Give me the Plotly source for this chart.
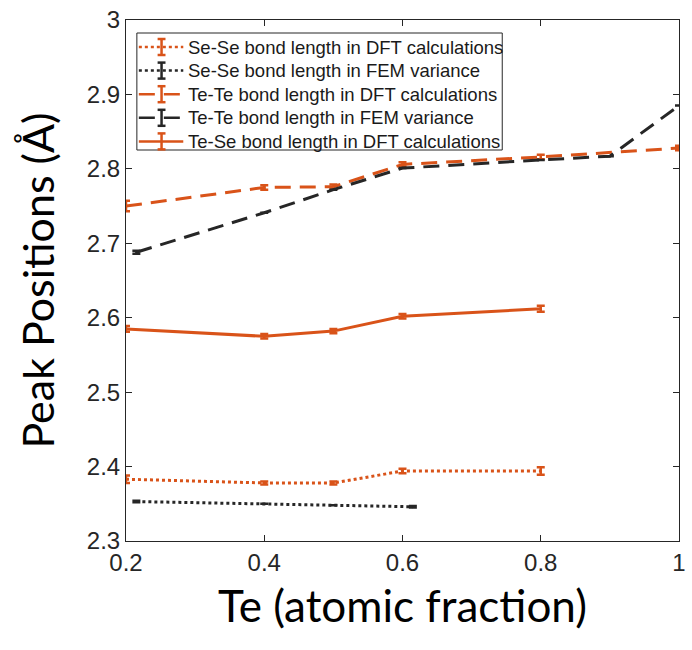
import plotly.graph_objects as go

ORANGE = "#D95319"
BLACK = "#262626"

# Se-Se bond length in DFT calculations
x_sese_dft = [0.2, 0.4, 0.5, 0.6, 0.8]
y_sese_dft = [2.383, 2.378, 2.378, 2.394, 2.394]
e_sese_dft = [0.005, 0.002, 0.002, 0.003, 0.005]

# Se-Se bond length in FEM variance
x_sese_fem = [0.215, 0.4, 0.5, 0.615]
y_sese_fem = [2.353, 2.350, 2.348, 2.346]
e_sese_fem = [0.001, 0.0, 0.0, 0.001]

# Te-Te bond length in DFT calculations
x_tete_dft = [0.2, 0.4, 0.5, 0.6, 0.8, 1.0]
y_tete_dft = [2.750, 2.775, 2.776, 2.806, 2.816, 2.828]
e_tete_dft = [0.007, 0.003, 0.003, 0.003, 0.003, 0.003]

# Te-Te bond length in FEM variance
x_tete_fem = [0.215, 0.4, 0.5, 0.6, 0.8, 0.9, 1.0]
y_tete_fem = [2.688, 2.741, 2.772, 2.801, 2.812, 2.817, 2.885]
e_tete_fem = [0.002, 0.0, 0.0, 0.0, 0.0, 0.0, 0.0]

# Te-Se bond length in DFT calculations
x_tese_dft = [0.2, 0.4, 0.5, 0.6, 0.8]
y_tese_dft = [2.585, 2.575, 2.582, 2.602, 2.612]
e_tese_dft = [0.004, 0.003, 0.003, 0.003, 0.004]

series_names = [
    "Se-Se bond length in DFT calculations",
    "Se-Se bond length in FEM variance",
    "Te-Te bond length in DFT calculations",
    "Te-Te bond length in FEM variance",
    "Te-Se bond length in DFT calculations",
]
series_data = [
    (x_sese_dft, y_sese_dft, e_sese_dft),
    (x_sese_fem, y_sese_fem, e_sese_fem),
    (x_tete_dft, y_tete_dft, e_tete_dft),
    (x_tete_fem, y_tete_fem, e_tete_fem),
    (x_tese_dft, y_tese_dft, e_tese_dft),
]
series_colors = [ORANGE, BLACK, ORANGE, BLACK, ORANGE]
series_dash = ["3px,3px", "3px,3px", "16px,9px", "16px,9px", "solid"]

fig = go.Figure()
for name, (xs, ys, es), col, dash in zip(series_names, series_data, series_colors, series_dash):
    fig.add_trace(go.Scatter(
        x=xs, y=ys, name=name, mode="lines", showlegend=False,
        line=dict(color=col, width=3, dash=dash),
        error_y=dict(type="data", array=es, visible=True, color=col, thickness=2.5, width=4),
    ))

# ---- custom legend box (layout decoration, in plot-area pixel terms) ----
L, R, T, B = 126, 686, 20, 541
W, H = R - L, B - T
def px(x):
    return (x - L) / W
def py(y):
    return (B - y) / H

shapes = [dict(type="rect", xref="paper", yref="paper",
               x0=px(137), x1=px(507), y0=py(150), y1=py(33),
               line=dict(color="#262626", width=1), fillcolor="white", layer="above")]
annotations = []
row_y0, row_dy = 47, 23.6
for i, (name, col, dash) in enumerate(zip(series_names, series_colors, series_dash)):
    ry = row_y0 + i * row_dy
    shapes.append(dict(type="line", xref="paper", yref="paper",
                       x0=px(139), x1=px(184), y0=py(ry), y1=py(ry),
                       line=dict(color=col, width=2.5, dash=dash), layer="above"))
    shapes.append(dict(type="line", xref="paper", yref="paper",
                       x0=px(162), x1=px(162), y0=py(ry - 8), y1=py(ry + 8),
                       line=dict(color=col, width=2.5), layer="above"))
    for cy in (ry - 8, ry + 8):
        shapes.append(dict(type="line", xref="paper", yref="paper",
                           x0=px(158), x1=px(166), y0=py(cy), y1=py(cy),
                           line=dict(color=col, width=2.5), layer="above"))
    annotations.append(dict(xref="paper", yref="paper", x=px(187), y=py(ry),
                            xanchor="left", yanchor="middle", showarrow=False,
                            text=name,
                            font=dict(family="Liberation Sans, Arial", size=18.5, color="#1a1a1a")))

axis_common = dict(
    showline=True, linecolor="#262626", linewidth=1, mirror="ticks",
    ticks="inside", ticklen=6, tickcolor="#262626", showgrid=False, zeroline=False,
    ticklabeloverflow="allow",
    tickfont=dict(family="Liberation Sans, Arial", size=24, color="#262626"),
)

fig.update_layout(
    width=692, height=650,
    margin=dict(l=126, r=6, t=20, b=109),
    paper_bgcolor="white", plot_bgcolor="white",
    xaxis=dict(range=[0.2, 1.0], tickvals=[0.2, 0.4, 0.6, 0.8, 1.0],
               ticktext=["0.2", "0.4", "0.6", "0.8", "1"],
               title=dict(text="Te (atomic fraction)", standoff=16,
                          font=dict(family="Lato, Open Sans", size=44, color="black")),
               **axis_common),
    yaxis=dict(range=[2.3, 3.0], tickvals=[2.3, 2.4, 2.5, 2.6, 2.7, 2.8, 2.9, 3.0],
               ticktext=["2.3", "2.4", "2.5", "2.6", "2.7", "2.8", "2.9", "3"],
               title=dict(text="Peak Positions (Å)", standoff=18,
                          font=dict(family="Lato, Open Sans", size=43, color="black")),
               **axis_common),
    shapes=shapes,
    annotations=annotations,
    showlegend=False,
)

fig.write_html("out.html")
